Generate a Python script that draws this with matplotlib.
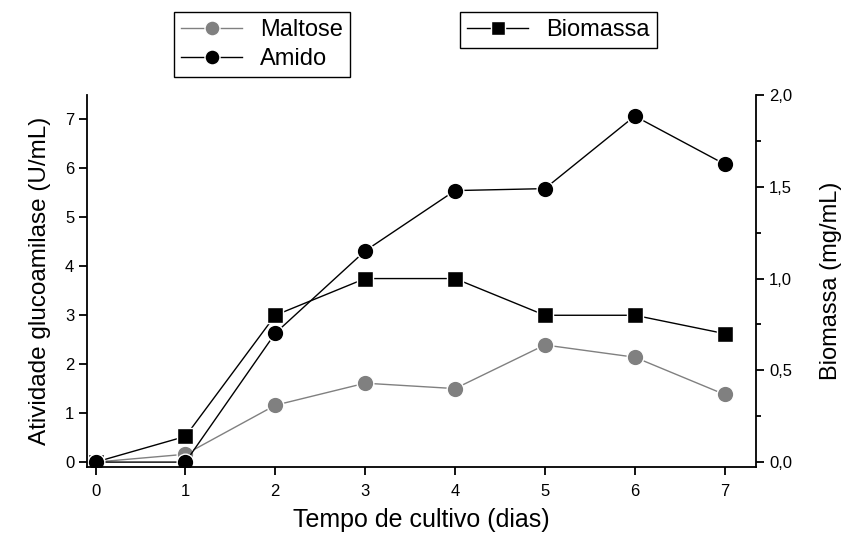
import matplotlib.pyplot as plt
from matplotlib.ticker import MultipleLocator, FuncFormatter

plt.rcParams['font.family'] = ['Liberation Sans', 'DejaVu Sans']

# Cultivation time (days)
dias = [0, 1, 2, 3, 4, 5, 6, 7]

# Glucoamylase activity (U/mL)
maltose = [0.0, 0.16, 1.16, 1.61, 1.50, 2.39, 2.14, 1.38]
amido = [0.0, 0.0, 2.63, 4.31, 5.54, 5.58, 7.06, 6.08]

# Biomass (mg/mL)
biomassa = [0.0, 0.14, 0.80, 1.00, 1.00, 0.80, 0.80, 0.70]

cinza = '#808080'

fig = plt.figure(figsize=(8.47, 5.35), dpi=100)
ax = fig.add_axes([0.1033, 0.1271, 0.7893, 0.6953])
ax2 = ax.twinx()

# Biomass first so the enzyme curves sit on top of it
h_bio, = ax2.plot(dias, biomassa, color='black', lw=1.0, marker='s', ms=11,
                  mfc='black', mec='white', mew=1.0, label='Biomassa')
h_mal, = ax.plot(dias, maltose, color=cinza, lw=1.0, marker='o', ms=12,
                 mfc=cinza, mec='white', mew=1.0, label='Maltose')
h_ami, = ax.plot(dias, amido, color='black', lw=1.0, marker='o', ms=12,
                 mfc='black', mec='white', mew=1.0, label='Amido')
ax.set_zorder(ax2.get_zorder() + 1)
ax.patch.set_visible(False)

ax.set_xlim(-0.09, 7.35)
ax.set_ylim(-0.1, 7.49)
ax2.set_ylim(-0.0267, 2.0)

for a in (ax, ax2):
    a.spines['top'].set_visible(False)
    for s in a.spines.values():
        s.set_linewidth(1.3)

ax.spines['right'].set_visible(False)
ax2.spines['left'].set_visible(False)
ax2.spines['bottom'].set_visible(False)

ax.set_xticks(dias)
ax.yaxis.set_major_locator(MultipleLocator(1))
ax2.yaxis.set_major_locator(MultipleLocator(0.5))
ax2.yaxis.set_minor_locator(MultipleLocator(0.25))
ax2.yaxis.set_major_formatter(FuncFormatter(lambda v, p: f'{v:.1f}'.replace('.', ',')))

ax.tick_params(axis='both', direction='out', length=6, width=1.3, labelsize=12)
ax.tick_params(axis='x', pad=6)
ax2.tick_params(axis='y', which='major', direction='out', length=6, width=1.3, labelsize=12)
ax2.tick_params(axis='y', which='minor', direction='out', length=3.5, width=1.3)

ax.set_xlabel('Tempo de cultivo (dias)', fontsize=18, labelpad=7)
ax.set_ylabel('Atividade glucoamilase (U/mL)', fontsize=17.5, labelpad=10)
ax2.set_ylabel('Biomassa (mg/mL)', fontsize=17, labelpad=20)

leg_kw = dict(frameon=True, fancybox=False, edgecolor='black', framealpha=1,
              fontsize=17, handlelength=2.6, markerscale=0.9, borderpad=0.3,
              labelspacing=0.3, handletextpad=0.75, borderaxespad=0)
leg1 = fig.legend(handles=[h_mal, h_ami], loc='upper left',
                  bbox_to_anchor=(174 / 847, 1 - 12 / 535), **leg_kw)
leg2 = fig.legend(handles=[h_bio], loc='upper left',
                  bbox_to_anchor=(460 / 847, 1 - 12 / 535), **leg_kw)
for leg in (leg1, leg2):
    leg.get_frame().set_linewidth(1.0)

fig.savefig('out.png', dpi=100)
